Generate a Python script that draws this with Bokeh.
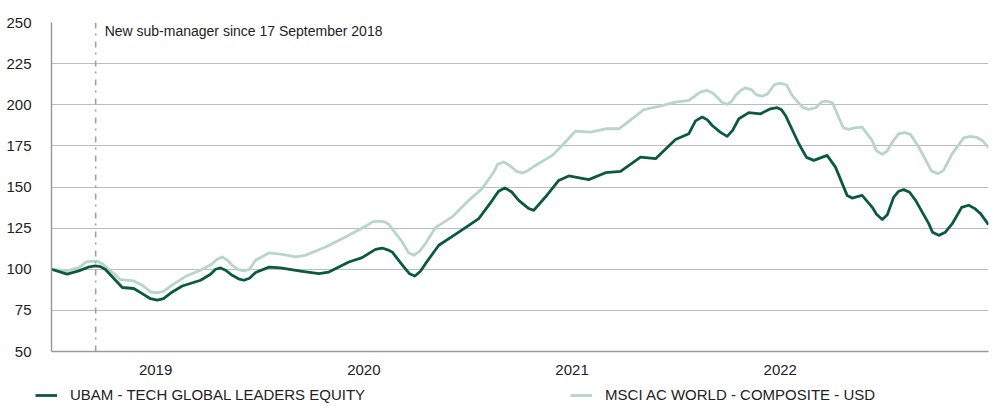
from bokeh.plotting import figure
from bokeh.layouts import column
from bokeh.models import Range1d, FixedTicker, Span, Label, Legend, LegendItem
from bokeh.embed import file_html
from bokeh.resources import INLINE

# ---- data (decimal years, index values rebased to 100) ----
ubam_t = [2018.500, 2018.575, 2018.631, 2018.682, 2018.711, 2018.735, 2018.759, 2018.840,
          2018.895, 2018.936, 2018.975, 2019.008, 2019.038, 2019.080, 2019.128, 2019.216,
          2019.264, 2019.288, 2019.312, 2019.336, 2019.368, 2019.398, 2019.424, 2019.451,
          2019.480, 2019.545, 2019.600, 2019.696, 2019.784, 2019.832, 2019.928, 2019.992,
          2020.056, 2020.088, 2020.114, 2020.136, 2020.192, 2020.219, 2020.245, 2020.272,
          2020.296, 2020.360, 2020.456, 2020.552, 2020.617, 2020.647, 2020.677, 2020.709,
          2020.744, 2020.792, 2020.816, 2020.872, 2020.936, 2020.984, 2021.080, 2021.161,
          2021.233, 2021.329, 2021.401, 2021.497, 2021.561, 2021.593, 2021.625, 2021.650,
          2021.673, 2021.713, 2021.745, 2021.771, 2021.801, 2021.849, 2021.905, 2021.953,
          2021.985, 2022.006, 2022.025, 2022.089, 2022.126, 2022.161, 2022.193, 2022.225,
          2022.265, 2022.321, 2022.345, 2022.393, 2022.441, 2022.462, 2022.490, 2022.514,
          2022.545, 2022.568, 2022.593, 2022.621, 2022.650, 2022.713, 2022.731, 2022.761,
          2022.793, 2022.826, 2022.871, 2022.905, 2022.933, 2022.962, 2023.000]
ubam_v = [100.0, 97.0, 99.0, 101.5, 102.0, 101.6, 99.8, 88.9,
          88.3, 85.2, 82.1, 81.2, 82.1, 86.2, 89.8, 93.3,
          97.0, 100.0, 100.8, 99.4, 96.3, 94.2, 93.3, 94.5,
          98.0, 101.3, 100.8, 98.8, 97.4, 98.3, 104.4, 107.1,
          112.1, 112.9, 111.8, 110.5, 101.4, 97.3, 95.9, 98.8,
          103.4, 114.6, 122.6, 130.8, 141.9, 147.4, 149.4, 147.1,
          141.9, 136.9, 135.8, 143.9, 154.0, 156.7, 154.5, 158.7,
          159.5, 168.2, 167.2, 178.9, 182.4, 190.2, 192.5, 190.8,
          187.4, 183.2, 180.8, 184.4, 191.5, 195.2, 194.5, 197.5,
          198.2, 196.9, 193.5, 176.3, 168.0, 166.2, 167.7, 169.2,
          162.1, 144.9, 143.3, 144.9, 137.8, 133.4, 130.2, 133.1,
          143.9, 147.4, 148.4, 146.8, 141.9, 127.7, 122.5, 120.6,
          122.5, 127.7, 137.6, 138.9, 137.0, 133.8, 127.1]

msci_t = [2018.500, 2018.575, 2018.631, 2018.668, 2018.695, 2018.721, 2018.743, 2018.831,
          2018.895, 2018.936, 2018.975, 2019.008, 2019.038, 2019.072, 2019.144, 2019.216,
          2019.272, 2019.292, 2019.320, 2019.345, 2019.368, 2019.398, 2019.424, 2019.451,
          2019.480, 2019.544, 2019.608, 2019.672, 2019.720, 2019.816, 2019.912, 2020.008,
          2020.042, 2020.072, 2020.099, 2020.120, 2020.184, 2020.215, 2020.240, 2020.267,
          2020.296, 2020.344, 2020.424, 2020.504, 2020.568, 2020.624, 2020.642, 2020.672,
          2020.700, 2020.734, 2020.761, 2020.786, 2020.824, 2020.905, 2020.960, 2021.017,
          2021.089, 2021.161, 2021.225, 2021.289, 2021.345, 2021.417, 2021.497, 2021.561,
          2021.617, 2021.649, 2021.675, 2021.697, 2021.718, 2021.745, 2021.766, 2021.785,
          2021.810, 2021.833, 2021.863, 2021.886, 2021.913, 2021.939, 2021.972, 2022.001,
          2022.030, 2022.057, 2022.107, 2022.137, 2022.169, 2022.198, 2022.225, 2022.251,
          2022.273, 2022.303, 2022.329, 2022.356, 2022.393, 2022.441, 2022.462, 2022.490,
          2022.514, 2022.538, 2022.568, 2022.598, 2022.625, 2022.665, 2022.726, 2022.757,
          2022.784, 2022.826, 2022.881, 2022.914, 2022.943, 2022.970, 2023.000]
msci_v = [100.0, 99.0, 101.0, 104.5, 105.0, 104.8, 103.4, 93.7,
          92.9, 90.3, 86.3, 85.6, 86.6, 89.7, 95.7, 99.4,
          103.4, 105.8, 107.5, 105.5, 102.4, 99.7, 99.0, 100.0,
          105.5, 109.9, 109.1, 107.5, 108.5, 113.5, 119.6, 126.1,
          128.8, 129.3, 128.8, 127.3, 116.6, 110.0, 108.5, 110.9,
          115.6, 125.3, 131.8, 141.9, 149.0, 159.1, 163.8, 165.2,
          163.1, 159.5, 158.5, 159.8, 163.1, 169.2, 176.3, 184.0,
          183.4, 185.4, 185.4, 191.5, 197.0, 199.0, 201.6, 202.6,
          207.8, 208.7, 207.2, 204.6, 201.7, 200.2, 202.0, 205.7,
          208.7, 210.3, 209.0, 206.0, 205.2, 206.6, 212.3, 213.1,
          212.0, 205.7, 198.4, 197.2, 198.1, 201.7, 202.2, 201.1,
          194.5, 185.9, 185.0, 185.9, 186.4, 178.3, 172.0, 169.8,
          172.0, 177.3, 182.3, 183.0, 182.0, 174.3, 159.8, 158.1,
          160.1, 170.3, 179.9, 180.8, 180.2, 178.3, 173.9]

series_names = ["UBAM - TECH GLOBAL LEADERS EQUITY", "MSCI AC WORLD - COMPOSITE - USD"]
y_ticks = [50, 75, 100, 125, 150, 175, 200, 225, 250]
grid_ticks = [75, 100, 125, 150, 175, 200, 225]
x_ticks = [2019, 2020, 2021, 2022]
x_tick_labels = ["2019", "2020", "2021", "2022"]
manager_change = 2018.712   # 17 September 2018
note = "New sub-manager since 17 September 2018"

DARK = "#0b5a3c"
LIGHT = "#b9d5ca"
FONT = "Liberation Sans"
LINE_W = 2.8

p = figure(width=994, height=380, output_backend="svg", toolbar_location=None,
           x_range=Range1d(2018.5, 2023.0), y_range=Range1d(50, 250),
           min_border_left=51, min_border_right=6, min_border_top=22, min_border_bottom=29)
p.outline_line_color = None
p.background_fill_color = "white"
p.border_fill_color = "white"

# axes
p.xaxis.ticker = FixedTicker(ticks=x_ticks)
p.xaxis.major_label_overrides = {t: l for t, l in zip(x_ticks, x_tick_labels)}
p.yaxis.ticker = FixedTicker(ticks=y_ticks)
for ax in (p.xaxis, p.yaxis):
    ax.major_tick_line_color = None
    ax.minor_tick_line_color = None
    ax.axis_line_color = "#9a9a9a"
    ax.axis_line_width = 1.5
    ax.major_label_text_font = FONT
    ax.major_label_text_font_size = "15px"
    ax.major_label_text_color = "#222222"
p.xaxis.major_label_standoff = 7
p.yaxis.major_label_standoff = 14

p.xgrid.grid_line_color = None
p.ygrid.ticker = FixedTicker(ticks=grid_ticks)
p.ygrid.grid_line_color = "#bdbdbd"
p.ygrid.grid_line_width = 1.2

# manager change marker
p.add_layout(Span(location=manager_change, dimension="height", line_color="#a0a0a0",
                  line_width=1.6, line_dash="6 5 2 6"))
p.add_layout(Label(x=manager_change, y=249.4, x_offset=9, text=note,
                   text_font=FONT, text_font_size="14px", text_color="#222222",
                   text_baseline="top"))

# series
p.line(msci_t, msci_v, line_color=LIGHT, line_width=LINE_W, line_join="round")
p.line(ubam_t, ubam_v, line_color=DARK, line_width=LINE_W, line_join="round")

# legend strip underneath: a small figure whose ranges keep the series out of view,
# so that only its legend shows
q = figure(width=994, height=26, output_backend="svg", toolbar_location=None,
           x_axis_location=None, y_axis_location=None,
           x_range=Range1d(0, 1), y_range=Range1d(0, 1),
           min_border_left=0, min_border_right=0, min_border_top=0, min_border_bottom=0)
q.grid.visible = False
q.outline_line_color = None
k_ubam = q.line(ubam_t, ubam_v, line_color=DARK, line_width=LINE_W)
k_msci = q.line(msci_t, msci_v, line_color=LIGHT, line_width=LINE_W)

legend_x = 35
if "frame_align" in q.properties():
    q.frame_align = False
    p.frame_align = False
else:
    legend_x = 35 - 51

legend = Legend(items=[LegendItem(label=series_names[0], renderers=[k_ubam]),
                       LegendItem(label=series_names[1], renderers=[k_msci])],
                orientation="horizontal", location=(legend_x, 3),
                glyph_width=22, glyph_height=16, label_standoff=13, spacing=205,
                padding=0, margin=0, border_line_color=None, background_fill_alpha=0,
                label_text_font=FONT, label_text_font_size="15px", label_text_color="#222222")
q.add_layout(legend, "center")

open("out.html", "w").write(file_html(column(p, q, spacing=0), INLINE))
